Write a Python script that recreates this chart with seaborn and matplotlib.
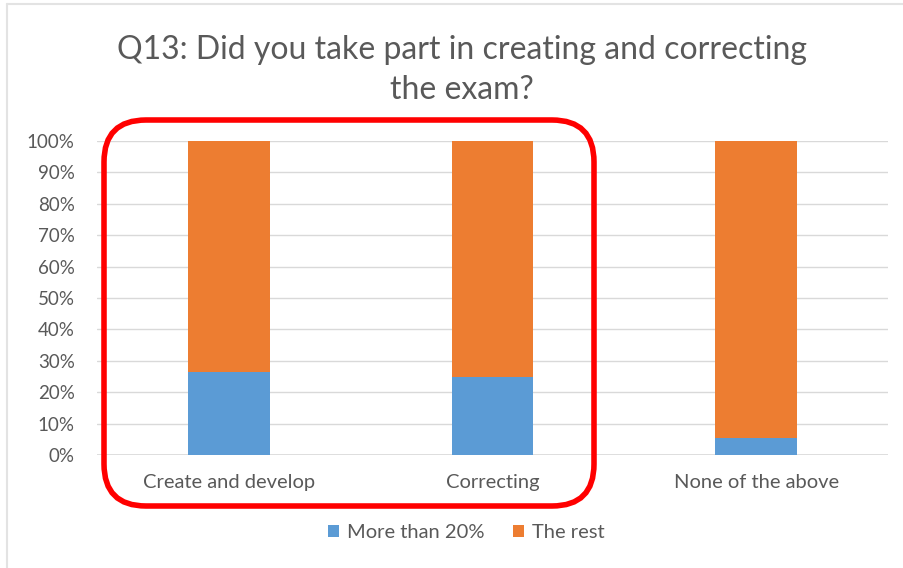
import seaborn as sns
import matplotlib.pyplot as plt
import pandas as pd
from matplotlib.patches import FancyBboxPatch
from matplotlib.lines import Line2D
from matplotlib.transforms import IdentityTransform

categories = ["Create and develop", "Correcting", "None of the above"]
more_than_20 = [26.4, 24.8, 5.5]
the_rest = [73.6, 75.2, 94.5]
series_names = ["More than 20%", "The rest"]
yticks = [0, 10, 20, 30, 40, 50, 60, 70, 80, 90, 100]

BLUE = "#5B9BD5"
ORANGE = "#ED7D31"
GREY = "#595959"

sns.set_style("white")
plt.rcParams['font.family'] = ['Lato', 'DejaVu Sans']

df = pd.DataFrame({"cat": categories, "blue": more_than_20, "rest": the_rest})
df["total"] = df["blue"] + df["rest"]

fig = plt.figure(figsize=(9.04, 5.68), dpi=100)
ax = fig.add_axes([97 / 904, 1 - 455 / 568, (888 - 97) / 904, (455 - 141) / 568])

sns.barplot(ax=ax, data=df, x="cat", y="total", color=ORANGE, width=0.31,
            saturation=1, label=series_names[1], zorder=3, linewidth=0, edgecolor="none")
sns.barplot(ax=ax, data=df, x="cat", y="blue", color=BLUE, width=0.31,
            saturation=1, label=series_names[0], zorder=3, linewidth=0, edgecolor="none")

ax.set_ylim(0, 100)
ax.set_xlim(-0.5, 2.5)
ax.set_yticks(yticks)
ax.set_yticklabels([f"{t}%" for t in yticks])
ax.yaxis.grid(True, color="#D9D9D9", linewidth=1, zorder=0)
ax.set_axisbelow(True)
for s in ax.spines.values():
    s.set_visible(False)
ax.axhline(0, color="#D9D9D9", linewidth=1.2, zorder=1)
ax.tick_params(axis="y", length=0, pad=16, labelsize=13.5, labelcolor=GREY)
ax.tick_params(axis="x", length=0, pad=14, labelsize=14.5, labelcolor=GREY)
ax.set_xlabel("")
ax.set_ylabel("")

handles, labels = ax.get_legend_handles_labels()
order = [labels.index(n) for n in series_names]
leg = fig.legend([handles[i] for i in order], [labels[i] for i in order],
                 loc="center", bbox_to_anchor=(466 / 904, 1 - 533 / 568), ncol=2,
                 frameon=False, fontsize=14.5, handlelength=0.55, handleheight=0.55,
                 handletextpad=0.4, columnspacing=1.4, labelcolor=GREY)
if ax.get_legend() is not None:
    ax.get_legend().remove()

fig.text(462 / 904, 1 - 70 / 568,
         "Q13: Did you take part in creating and correcting\nthe exam?",
         ha="center", va="center", fontsize=23, color=GREY, linespacing=1.45)

# red rounded highlight, in pixel coordinates
box = FancyBboxPatch((104, 568 - 506), 490, 386,
                     boxstyle="round,pad=0,rounding_size=42",
                     transform=IdentityTransform(), fill=False,
                     edgecolor="#FF0000", linewidth=4, zorder=10)
fig.patches.append(box)

# faint frame at top and left
fig.add_artist(Line2D([7 / 904, 7 / 904], [0, 1 - 4 / 568], transform=fig.transFigure,
                      color="#E3E3E3", linewidth=1.5))
fig.add_artist(Line2D([7 / 904, 1], [1 - 4 / 568, 1 - 4 / 568], transform=fig.transFigure,
                      color="#E3E3E3", linewidth=1.5))

fig.savefig("out.png", dpi=100)
